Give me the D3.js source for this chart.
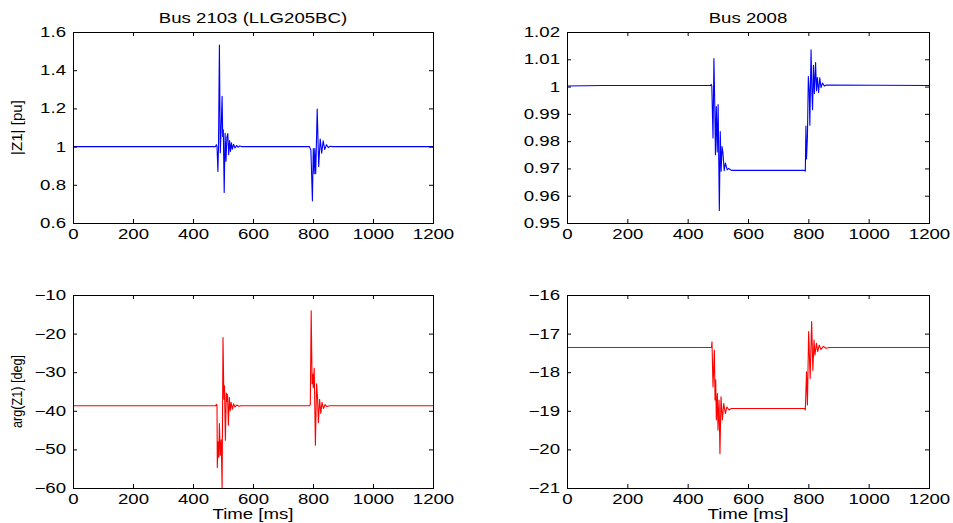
<!DOCTYPE html>
<html>
<head>
<meta charset="utf-8">
<script src="https://cdn.jsdelivr.net/npm/d3@7"></script>
<style>
  html, body { margin: 0; padding: 0; background: #fff; }
  svg text { font-family: "Liberation Sans", Arial, Helvetica, sans-serif; fill: #000; }
</style>
</head>
<body>
<svg id="chart" width="953" height="523"></svg>
<script>
// Time axis (ms) shared by all panels
const xDomain = [0, 1200];
const xTicks = [0, 200, 400, 600, 800, 1000, 1200];

// |Z1| [pu] at Bus 2103 -- [time ms, value]
const magBus2103 = [
  [0, 1.0], [475, 1.0], [478, 1.01], [480, 1.0], [483, 0.87], [485, 1.0], [488, 1.532],
  [491, 0.968], [494, 1.1], [497, 1.263], [499, 1.053], [501, 1.088], [504, 0.76],
  [507, 1.07], [510, 0.924], [513, 1.05], [516, 1.068], [519, 0.958], [522, 1.032],
  [525, 0.975], [528, 1.02], [531, 0.986], [535, 1.012], [540, 0.993], [545, 1.006],
  [550, 0.997], [556, 1.003], [562, 1.0], [788, 1.0], [790, 0.993], [793, 0.98],
  [798, 0.716], [801, 0.99], [804, 0.858], [806, 0.99], [809, 0.858], [811, 0.99],
  [814, 1.197], [819, 0.896], [824, 1.04], [829, 0.966], [834, 1.03], [839, 0.985],
  [845, 1.01], [851, 0.995], [858, 1.002], [865, 1.0], [1200, 1.0]
];

// |Z1| [pu] at Bus 2008
const magBus2008 = [
  [0, 1.0002], [120, 1.0004], [476, 1.0004], [478, 1.0008], [480, 1.0002], [484, 0.9812],
  [487, 1.0103], [490, 0.9925], [492, 0.975], [495, 0.9927], [498, 0.976], [501, 0.9934],
  [505, 0.9546], [508, 0.9835], [511, 0.969], [514, 0.978], [517, 0.9757], [521, 0.9692],
  [525, 0.972], [531, 0.9695], [536, 0.970], [545, 0.9693], [788, 0.9693], [790, 0.969],
  [792, 0.9855], [794, 0.9735], [797, 0.9817], [800, 1.0037], [803, 0.9985], [805, 0.9858],
  [809, 1.0135], [812, 0.9975], [814, 0.9915], [817, 1.0078], [820, 0.9975], [824, 1.0088],
  [827, 0.9985], [830, 1.0033], [834, 0.9978], [838, 1.0032], [842, 0.9996], [847, 1.0013],
  [853, 1.0002], [860, 1.0006], [1200, 1.0004]
];

// arg(Z1) [deg] at Bus 2103
const argBus2103 = [
  [0, -38.7], [476, -38.7], [478, -38.3], [480, -38.6], [481, -54.7], [484, -48], [486, -52],
  [488, -43.3], [491, -51.5], [494, -47.5], [497, -60], [500, -21], [503, -37], [505, -33.5],
  [508, -47.6], [511, -35.4], [513, -37.5], [515, -35.8], [518, -43.7], [521, -36.5],
  [524, -40], [527, -37.8], [531, -39.6], [535, -38.2], [540, -39], [546, -38.5],
  [553, -38.8], [560, -38.7], [789, -38.7], [791, -38.3], [794, -14.1], [797, -33],
  [799, -30.5], [801, -34], [804, -29], [808, -48.9], [812, -33], [815, -36.5], [818, -43],
  [822, -37], [826, -40.7], [830, -37.8], [835, -39.4], [840, -38.4], [846, -38.9],
  [855, -38.7], [1200, -38.7]
];

// arg(Z1) [deg] at Bus 2008
const argBus2008 = [
  [0, -17.36], [479, -17.36], [480.6, -17.21], [484, -18.38], [488.5, -17.43], [490.7, -18.72],
  [493, -18.2], [495, -19.24], [498.5, -18.55], [500.5, -19.5], [504, -18.72], [507, -20.11],
  [510.5, -18.64], [515, -19.24], [519.4, -18.81], [525, -19.07], [530, -18.9], [537, -18.98],
  [545, -18.94], [787, -18.94], [790, -18.98], [794, -17.99], [797, -18.85], [801, -16.95],
  [806, -18.16], [811, -16.69], [815, -17.95], [819, -17.17], [822, -17.56], [827, -17.25],
  [831, -17.47], [836, -17.3], [842, -17.41], [850, -17.33], [858, -17.38], [870, -17.36],
  [1200, -17.36]
];

const magTicks2103 = [0.6, 0.8, 1, 1.2, 1.4, 1.6];
const magTicks2008 = [0.95, 0.96, 0.97, 0.98, 0.99, 1, 1.01, 1.02];
const argTicks2103 = [-60, -50, -40, -30, -20, -10];
const argTicks2008 = [-21, -20, -19, -18, -17, -16];

const titles = ['Bus 2103 (LLG205BC)', 'Bus 2008'];
const yLabels = ['|Z1| [pu]', 'arg(Z1) [deg]'];
const xLabel = 'Time [ms]';

const svg = d3.select('#chart');
const fmt = d3.format('~g');
const TEXT_K = 1.33; // reference text is horizontally stretched

const cols = [[73, 433], [567, 929]];
const rows = [[32, 223], [295, 488]];
const yLabelLen = [55, 73];

const panels = [
  { data: magBus2103, ticks: magTicks2103, col: 0, row: 0, color: '#0000ff' },
  { data: magBus2008, ticks: magTicks2008, col: 1, row: 0, color: '#0000ff' },
  { data: argBus2103, ticks: argTicks2103, col: 0, row: 1, color: '#ff0000' },
  { data: argBus2008, ticks: argTicks2008, col: 1, row: 1, color: '#ff0000' }
];

panels.forEach((p, i) => {
  const [x0, x1] = cols[p.col];
  const [y0, y1] = rows[p.row];
  const x = d3.scaleLinear().domain(xDomain).range([x0, x1]);
  const y = d3.scaleLinear().domain(d3.extent(p.ticks)).range([y1, y0]);

  const g = svg.append('g');

  svg.append('clipPath').attr('id', `clip${i}`)
    .append('rect').attr('x', x0).attr('y', y0).attr('width', x1 - x0).attr('height', y1 - y0);

  g.append('path')
    .datum(p.data)
    .attr('clip-path', `url(#clip${i})`)
    .attr('fill', 'none')
    .attr('stroke', p.color)
    .attr('stroke-width', 1.1)
    .attr('stroke-linejoin', 'round')
    .attr('d', d3.line().x(d => x(d[0])).y(d => y(d[1])));

  // inward ticks on all four sides, labels on left and bottom
  const bottom = g.append('g').attr('transform', `translate(0,${y1})`)
    .call(d3.axisBottom(x).tickValues(xTicks).tickSizeInner(-4).tickSizeOuter(0).tickPadding(6).tickFormat(fmt));
  const left = g.append('g').attr('transform', `translate(${x0},0)`)
    .call(d3.axisLeft(y).tickValues(p.ticks).tickSizeInner(-4).tickSizeOuter(0).tickPadding(7).tickFormat(fmt));
  g.append('g').attr('transform', `translate(0,${y0})`)
    .call(d3.axisTop(x).tickValues(xTicks).tickSizeInner(-4).tickSizeOuter(0).tickFormat(''));
  g.append('g').attr('transform', `translate(${x1},0)`)
    .call(d3.axisRight(y).tickValues(p.ticks).tickSizeInner(-4).tickSizeOuter(0).tickFormat(''));

  g.selectAll('.domain').remove();
  g.selectAll('.tick line').attr('stroke', '#000');
  [bottom, left].forEach(a => a.selectAll('text')
    .attr('font-size', 14)
    .attr('font-family', '"Liberation Sans", Arial, sans-serif')
    .attr('fill', '#000'));

  g.append('rect')
    .attr('x', x0).attr('y', y0).attr('width', x1 - x0).attr('height', y1 - y0)
    .attr('fill', 'none').attr('stroke', '#000').attr('stroke-width', 1)
    .attr('shape-rendering', 'crispEdges');

  if (p.row === 0) {
    svg.append('text')
      .attr('x', (x0 + x1) / 2).attr('y', 23)
      .attr('text-anchor', 'middle').attr('font-size', 14)
      .attr('class', 'stretch')
      .text(titles[p.col]);
  } else {
    svg.append('text')
      .attr('x', (x0 + x1) / 2).attr('y', 519)
      .attr('text-anchor', 'middle').attr('font-size', 14)
      .attr('class', 'stretch')
      .text(xLabel);
  }

  if (p.col === 0) {
    svg.append('text')
      .attr('transform', `translate(22,${(y0 + y1) / 2}) rotate(-90)`)
      .attr('text-anchor', 'middle').attr('font-size', 14)
      .attr('textLength', yLabelLen[p.row]).attr('lengthAdjust', 'spacingAndGlyphs')
      .text(yLabels[p.row]);
  }
});

// stretch horizontal texts to mimic the reference's wide lettering
svg.selectAll('.tick text, text.stretch').each(function () {
  const len = this.getComputedTextLength();
  if (len > 0) {
    d3.select(this).attr('textLength', len * TEXT_K).attr('lengthAdjust', 'spacingAndGlyphs');
  }
});
</script>
</body>
</html>
